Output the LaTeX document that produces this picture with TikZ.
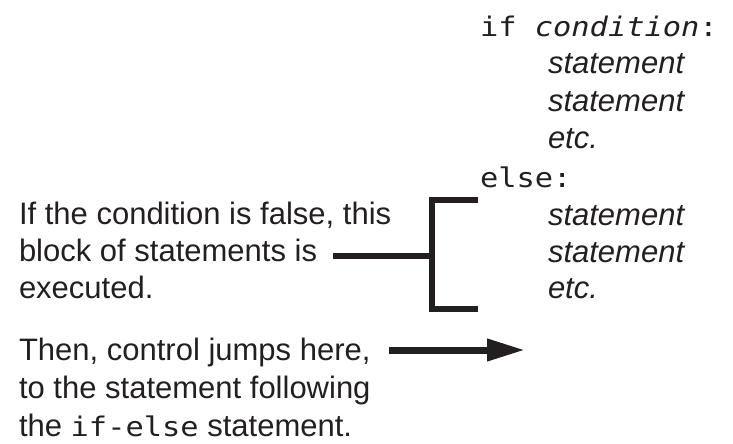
\documentclass[tikz,border=0pt]{standalone}
\usepackage{fontspec}
\setmainfont{Liberation Sans}
\newfontfamily\monofont[FakeStretch=1.125]{DejaVu Sans Mono}
\usetikzlibrary{arrows.meta}
\definecolor{ink}{HTML}{231F20}
\begin{document}
\begin{tikzpicture}[x=1pt,y=-1pt,
  lbl/.style={anchor=base west, inner sep=0pt, outer sep=0pt, text=ink, font=\fontsize{31}{37}\selectfont},
  stmt/.style={anchor=base west, inner sep=0pt, outer sep=0pt, text=ink, font=\fontsize{31}{37}\selectfont\itshape},
  code/.style={anchor=base west, inner sep=0pt, outer sep=0pt, text=ink, font=\monofont\fontsize{27}{30}\selectfont},
  bracket/.style={draw=ink, line width=6.5pt},
  jump/.style={draw=ink, line width=7pt, -{Triangle[length=38pt,width=21pt]}}
]
\useasboundingbox (0,0) rectangle (733,444);
% code column
\node[code] (ifline) at (480,37) {if {\itshape condition}:};
\node[stmt] (s1) at (548,74) {statement};
\node[stmt] (s2) at (548,111) {statement};
\node[stmt] (s3) at (548,148) {etc.};
\node[code] (elseline) at (480,187) {else:};
\node[stmt] (s4) at (548,225) {statement};
\node[stmt] (s5) at (548,262) {statement};
\node[stmt] (s6) at (548,298) {etc.};
% left annotations
\node[lbl] (f1) at (19,224) {If the condition is false, this};
\node[lbl] (f2) at (19,261) {block of statements is};
\node[lbl] (f3) at (19,298) {executed.};
\node[lbl] (t1) at (19,360) {Then, control jumps here,};
\node[lbl] (t2) at (19,398) {to the statement following};
\node[lbl] (t3) at (19,436) {the {\monofont\fontsize{27}{30}\selectfont if-else} statement.};
% bracket
\coordinate (btop) at (478,200);
\coordinate (bbot) at (478,309);
\coordinate (bmid) at (333,256);
\coordinate (bjoin) at (432,256);
\draw[bracket] (btop) -- ++(-46,0) |- (bbot);
\draw[bracket] (bmid) -- (bjoin);
% arrow
\coordinate (atail) at (389,350);
\coordinate (ahead) at (525,350);
\draw[jump] (atail) -- (ahead);
\end{tikzpicture}
\end{document}
